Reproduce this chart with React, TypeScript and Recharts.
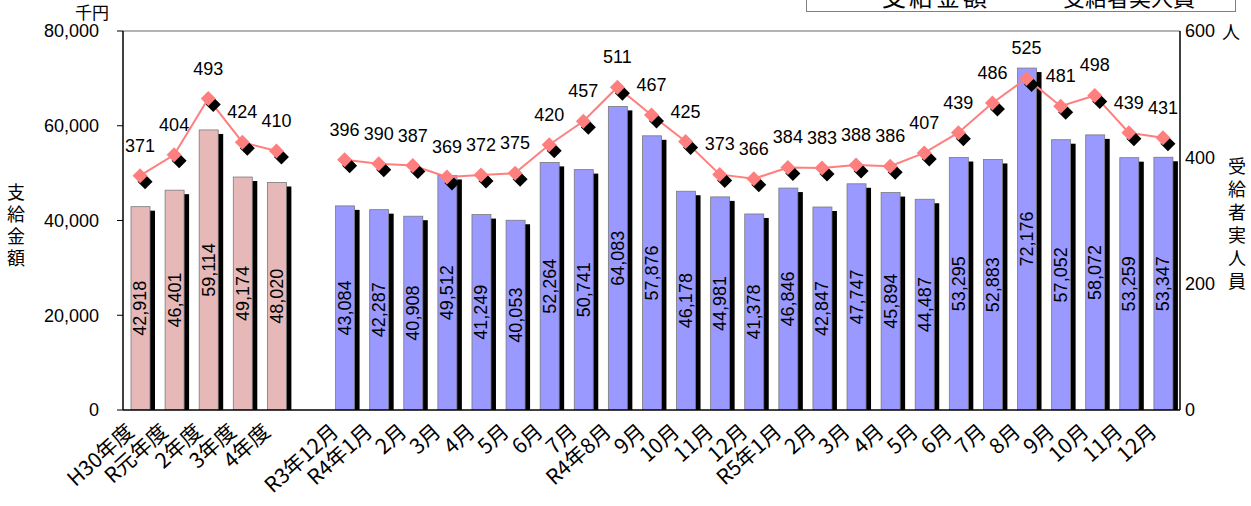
import React from "react";
import {
  ComposedChart,
  Bar,
  Line,
  XAxis,
  YAxis,
  Cell,
  LabelList,
  ReferenceLine,
} from "recharts";

// ---- data ----
const categories: string[] = [
  "H30年度", "R元年度", "2年度", "3年度", "4年度",
  "",
  "R3年12月", "R4年1月", "2月", "3月", "4月", "5月", "6月", "7月", "R4年8月", "9月", "10月", "11月", "12月",
  "R5年1月", "2月", "3月", "4月", "5月", "6月", "7月", "8月", "9月", "10月", "11月", "12月",
];
const periodKinds: string[] = [
  "year", "year", "year", "year", "year",
  "gap",
  "month", "month", "month", "month", "month", "month", "month", "month", "month", "month", "month", "month", "month",
  "month", "month", "month", "month", "month", "month", "month", "month", "month", "month", "month", "month",
];
const paymentAmounts: (number | null)[] = [
  42918, 46401, 59114, 49174, 48020,
  null,
  43084, 42287, 40908, 49512, 41249, 40053, 52264, 50741, 64083, 57876, 46178, 44981, 41378,
  46846, 42847, 47747, 45894, 44487, 53295, 52883, 72176, 57052, 58072, 53259, 53347,
];
const recipients: (number | null)[] = [
  371, 404, 493, 424, 410,
  null,
  396, 390, 387, 369, 372, 375, 420, 457, 511, 467, 425, 373, 366,
  384, 383, 388, 386, 407, 439, 486, 525, 481, 498, 439, 431,
];
const leftTicks: number[] = [0, 20000, 40000, 60000, 80000];
const rightTicks: number[] = [0, 200, 400, 600];

const tableData = categories.map((name, i) => ({
  name,
  kind: periodKinds[i],
  amount: paymentAmounts[i],
  persons: recipients[i],
}));

const COLOR_YEAR = "#E6B9B8";
const COLOR_MONTH = "#9999FF";
const COLOR_LINE = "#FF7F7F";
const NUM_FONT = "'Liberation Sans', Arial, sans-serif";
const JP_FONT = "'Noto Sans CJK JP', sans-serif";

const ShadowBar = (props: any) => {
  const { x, y, width, height, fill } = props;
  if (!height || height <= 0) return null;
  return (
    <g>
      <rect x={x + 5} y={y + 4} width={width} height={height} fill="#000" />
      <rect x={x} y={y} width={width} height={height} fill={fill} stroke="#7a7a7a" strokeWidth={0.8} />
    </g>
  );
};

const DiamondDot = (props: any) => {
  const { cx, cy, value } = props;
  if (value == null || cx == null || cy == null) return null;
  const r = 7.5;
  const d = (ox: number, oy: number) =>
    `M${cx + ox},${cy + oy - r} L${cx + ox + r},${cy + oy} L${cx + ox},${cy + oy + r} L${cx + ox - r},${cy + oy} Z`;
  return (
    <g>
      <path d={d(5, 6)} fill="#000" />
      <path d={d(0, 0)} fill={COLOR_LINE} />
    </g>
  );
};

const BarValueLabel = (props: any) => {
  const { x, y, width, height, value } = props;
  if (value == null) return null;
  const cx = x + width / 2;
  const cy = y + height / 2;
  return (
    <text
      x={cx}
      y={cy}
      transform={`rotate(-90 ${cx} ${cy})`}
      textAnchor="middle"
      dominantBaseline="central"
      fontFamily={NUM_FONT}
      fontSize={18}
      fill="#000"
    >
      {Number(value).toLocaleString("en-US")}
    </text>
  );
};

const LineValueLabel = (props: any) => {
  const { x, y, value } = props;
  if (value == null) return null;
  return (
    <text x={x} y={y - 24} textAnchor="middle" fontFamily={NUM_FONT} fontSize={18} fill="#000">
      {value}
    </text>
  );
};

const XTick = (props: any) => {
  const { x, y, payload } = props;
  const tx = x - 16;
  const ty = y + 3;
  return (
    <g transform={`translate(${tx},${ty}) rotate(-42)`}>
      <text x={0} y={0} dy="0.8em" textAnchor="end" fontFamily={JP_FONT} fontSize={21} fill="#000">
        {payload.value}
      </text>
    </g>
  );
};

export default function App() {
  return (
    <div style={{ position: "absolute", left: 0, top: 0, width: 1251, height: 506, background: "#fff", overflow: "hidden" }}>
      <ComposedChart
        width={1251}
        height={506}
        data={tableData}
        margin={{ top: 31, right: 0, left: 0, bottom: 0 }}
      >
        <XAxis
          dataKey="name"
          xAxisId="x"
          height={96}
          interval={0}
          tick={<XTick />}
          tickLine={false}
          axisLine={{ stroke: "#000", strokeWidth: 1.5 }}
        />
        <YAxis
          yAxisId="left"
          orientation="left"
          width={123}
          domain={[0, 80000]}
          ticks={leftTicks}
          tickFormatter={(v: number) => v.toLocaleString("en-US")}
          tick={{ fill: "#000", fontFamily: NUM_FONT, fontSize: 18 }}
          tickSize={6}
          tickMargin={18}
          tickLine={{ stroke: "#000" }}
          axisLine={{ stroke: "#000", strokeWidth: 1.5 }}
          allowDataOverflow
        />
        <YAxis
          yAxisId="right"
          orientation="right"
          width={71}
          domain={[0, 600]}
          ticks={rightTicks}
          tick={{ fill: "#000", fontFamily: NUM_FONT, fontSize: 18, textAnchor: "start" }}
          tickSize={0}
          tickMargin={5}
          axisLine={{ stroke: "#000", strokeWidth: 1.5 }}
        />
        <ReferenceLine yAxisId="left" xAxisId="x" y={80000} stroke="#9a9a9a" strokeWidth={1.5} />
        <Bar
          dataKey="amount"
          xAxisId="x"
          yAxisId="left"
          barSize={19}
          shape={<ShadowBar />}
          isAnimationActive={false}
        >
          {tableData.map((d, i) => (
            <Cell key={i} fill={d.kind === "year" ? COLOR_YEAR : COLOR_MONTH} />
          ))}
          <LabelList dataKey="amount" content={<BarValueLabel />} />
        </Bar>
        <Line
          dataKey="persons"
          xAxisId="x"
          yAxisId="right"
          stroke={COLOR_LINE}
          strokeWidth={2}
          dot={<DiamondDot />}
          activeDot={false}
          connectNulls={false}
          isAnimationActive={false}
        >
          <LabelList dataKey="persons" content={<LineValueLabel />} />
        </Line>
      </ComposedChart>

      {/* axis titles */}
      <div style={{ position: "absolute", left: 75, top: 2, fontFamily: JP_FONT, fontSize: 17, lineHeight: "20px" }}>千円</div>
      <div
        style={{
          position: "absolute",
          left: 5,
          top: 183,
          writingMode: "vertical-rl",
          fontFamily: JP_FONT,
          fontSize: 18,
          lineHeight: "22px",
          letterSpacing: 4,
        }}
      >
        支給金額
      </div>
      <div style={{ position: "absolute", left: 1222, top: 21, fontFamily: JP_FONT, fontSize: 18, lineHeight: "20px" }}>人</div>
      <div
        style={{
          position: "absolute",
          left: 1226,
          top: 157,
          writingMode: "vertical-rl",
          fontFamily: JP_FONT,
          fontSize: 18,
          lineHeight: "22px",
          letterSpacing: 5,
        }}
      >
        受給者実人員
      </div>

      {/* legend (cut off at page top) */}
      <div
        style={{
          position: "absolute",
          left: 806,
          top: -30,
          width: 428,
          height: 40,
          border: "1px solid #808080",
          background: "#fff",
        }}
      >
        <span style={{ position: "absolute", left: 75, top: 13, fontFamily: JP_FONT, fontSize: 24, lineHeight: "24px", letterSpacing: 3, whiteSpace: "nowrap" }}>
          支給金額
        </span>
        <span style={{ position: "absolute", left: 256, top: 13, fontFamily: JP_FONT, fontSize: 22, lineHeight: "24px", whiteSpace: "nowrap" }}>
          受給者実人員
        </span>
      </div>
    </div>
  );
}
